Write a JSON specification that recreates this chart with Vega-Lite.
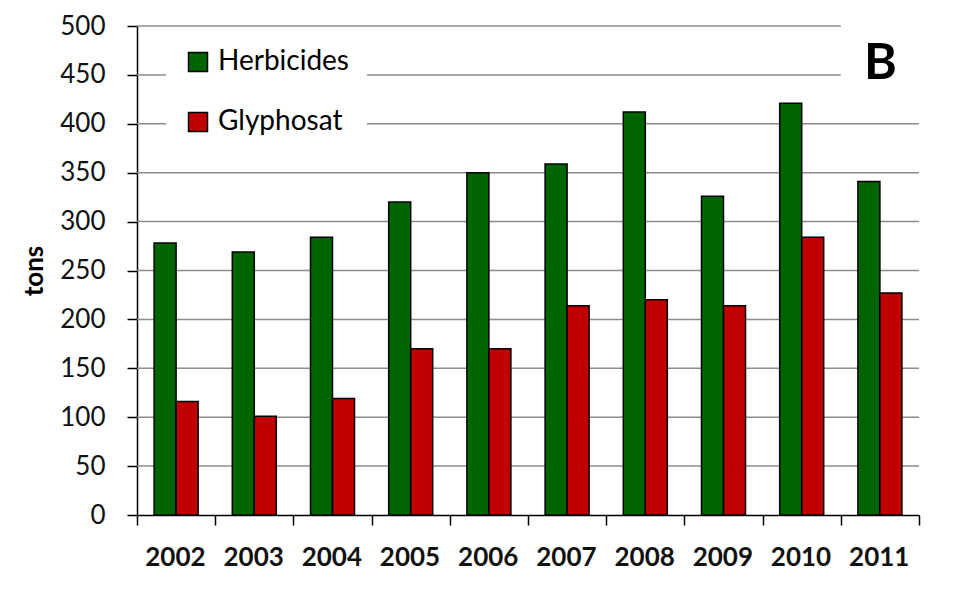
{
  "$schema": "https://vega.github.io/schema/vega-lite/v6.json",
  "width": 782,
  "height": 489,
  "autosize": {"type": "none"},
  "padding": {"left": 137, "top": 26, "right": 46, "bottom": 74},
  "background": "white",
  "config": {"view": {"stroke": null}, "font": "Lato"},
  "title": {"text": "B", "orient": "top", "anchor": "end", "frame": "group", "fontSize": 50, "fontWeight": "bold", "font": "Lato", "color": "black", "offset": 0, "baseline": "alphabetic", "dx": -22, "dy": 116},
  "data": {"values": [
    {"year": "2002", "type": "Herbicides", "value": 278},
    {"year": "2003", "type": "Herbicides", "value": 269},
    {"year": "2004", "type": "Herbicides", "value": 284},
    {"year": "2005", "type": "Herbicides", "value": 320},
    {"year": "2006", "type": "Herbicides", "value": 350},
    {"year": "2007", "type": "Herbicides", "value": 359},
    {"year": "2008", "type": "Herbicides", "value": 412},
    {"year": "2009", "type": "Herbicides", "value": 326},
    {"year": "2010", "type": "Herbicides", "value": 421},
    {"year": "2011", "type": "Herbicides", "value": 341},
    {"year": "2002", "type": "Glyphosat", "value": 116},
    {"year": "2003", "type": "Glyphosat", "value": 101},
    {"year": "2004", "type": "Glyphosat", "value": 119},
    {"year": "2005", "type": "Glyphosat", "value": 170},
    {"year": "2006", "type": "Glyphosat", "value": 170},
    {"year": "2007", "type": "Glyphosat", "value": 214},
    {"year": "2008", "type": "Glyphosat", "value": 220},
    {"year": "2009", "type": "Glyphosat", "value": 214},
    {"year": "2010", "type": "Glyphosat", "value": 284},
    {"year": "2011", "type": "Glyphosat", "value": 227}
  ]},
  "layer": [
    {
      "data": {"values": [{"v": 50}, {"v": 100}, {"v": 150}, {"v": 200}, {"v": 250}, {"v": 300}, {"v": 350}, {"v": 400}]},
      "mark": {"type": "rule", "color": "#8c8c8c", "strokeWidth": 1.5},
      "encoding": {"y": {"field": "v", "type": "quantitative"}}
    },
    {
      "data": {"values": [{"v": 450, "from": "2002", "to": "2011"}, {"v": 500, "from": "2002", "to": "2011"}]},
      "mark": {"type": "rule", "color": "#8c8c8c", "strokeWidth": 1.5},
      "encoding": {
        "x": {"field": "from", "type": "ordinal", "bandPosition": 0},
        "x2": {"field": "to", "bandPosition": 0},
        "y": {"field": "v", "type": "quantitative"}
      }
    },
    {
      "mark": {"type": "bar", "stroke": "black", "strokeWidth": 1.5},
      "encoding": {
        "x": {"field": "year", "type": "ordinal", "scale": {"paddingInner": 0, "paddingOuter": 0},
          "axis": {"title": null, "labelAngle": 0, "labelFontSize": 26, "labelFontWeight": "bold", "labelColor": "#111", "labelPadding": 32, "labelOffset": 29, "tickSize": 10, "tickBand": "extent", "tickColor": "black", "tickWidth": 1.5, "domainColor": "black", "domainWidth": 1.5, "grid": false}},
        "xOffset": {"field": "type", "type": "nominal", "scale": {"domain": ["Herbicides", "Glyphosat"], "paddingInner": 0, "paddingOuter": 0.777}},
        "y": {"field": "value", "type": "quantitative", "scale": {"domain": [0, 500], "nice": false},
          "axis": {"values": [0, 50, 100, 150, 200, 250, 300, 350, 400, 450, 500], "title": "tons", "titleFontSize": 26, "titleFontWeight": "bold", "titleColor": "black", "titlePadding": 12, "labelFontSize": 26, "labelColor": "#111", "labelPadding": 22, "tickSize": 10, "tickColor": "black", "tickWidth": 1.5, "domainColor": "black", "domainWidth": 1.5, "grid": false}},
        "color": {"field": "type", "type": "nominal", "scale": {"domain": ["Herbicides", "Glyphosat"], "range": ["#006400", "#C00000"]},
          "legend": {"title": null, "orient": "none", "legendX": 29, "legendY": 4, "fillColor": "white", "padding": 18, "symbolType": "square", "symbolSize": 361, "symbolStrokeColor": "black", "symbolStrokeWidth": 1.5, "symbolOpacity": 1, "labelFontSize": 28, "labelFont": "Lato", "labelColor": "black", "labelOffset": 6, "rowPadding": 32}}
      }
    }
  ]
}
